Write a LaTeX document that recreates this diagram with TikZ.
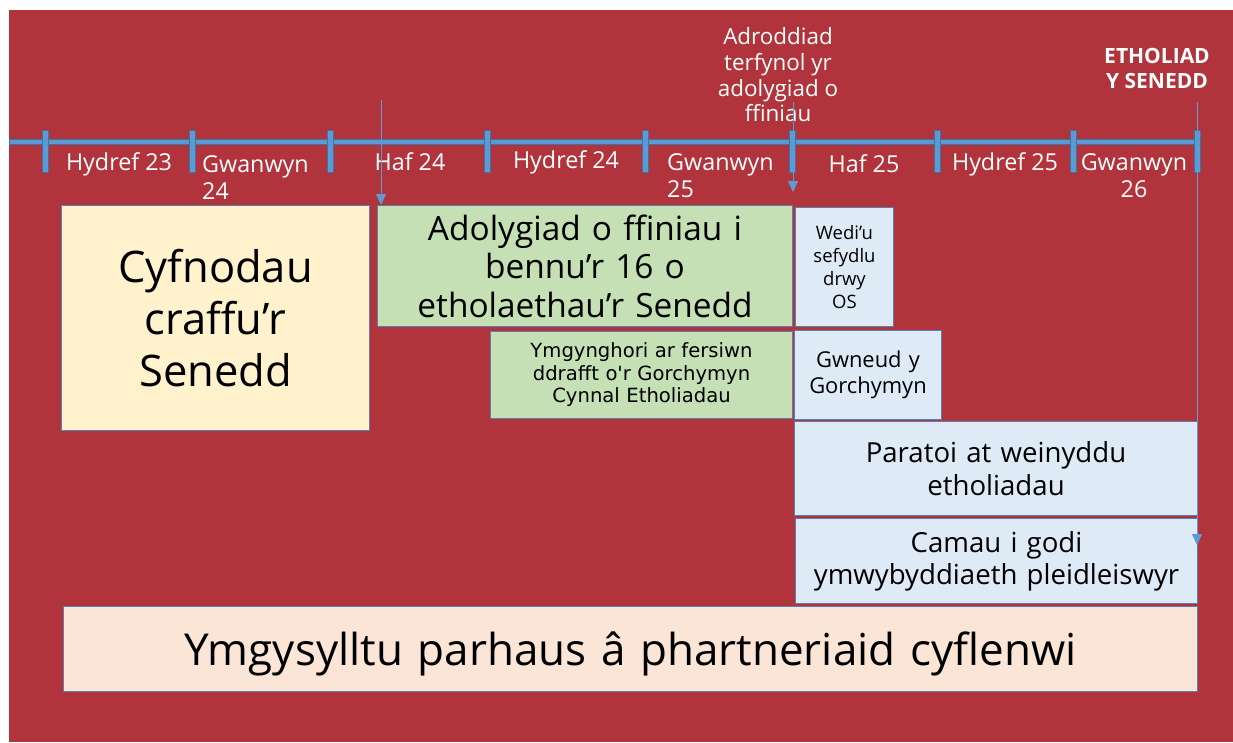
\documentclass[tikz,border=0pt]{standalone}
\usepackage{fontspec}
\setmainfont{Open Sans}
\newfontfamily\arialfont{DejaVu Sans}
\usetikzlibrary{arrows.meta}
\definecolor{senred}{HTML}{B1343C}
\definecolor{tlblue}{HTML}{5B9BD5}
\definecolor{tldark}{HTML}{41719C}
\definecolor{boxline}{HTML}{5A7FAF}
\definecolor{yellowbox}{HTML}{FFF2CC}
\definecolor{greenbox}{HTML}{C5E0B4}
\definecolor{bluebox}{HTML}{DEEBF7}
\definecolor{peachbox}{HTML}{FBE5D6}
\begin{document}
\begin{tikzpicture}[x=1pt,y=-1pt,
    box/.style={draw=boxline,line width=1pt,align=center,inner sep=0pt,anchor=north west},
    season/.style={text=white,inner sep=0pt,font=\fontsize{23.3}{27}\selectfont},
    pointer/.style={draw=tlblue,line width=1pt,-{Triangle[width=10pt,length=11pt]}}]
    \useasboundingbox (0,0) rectangle (1233,742);
    \fill[senred] (9,10) rectangle (1233,742);

    \filldraw[fill=tlblue,draw=tldark,line width=.6pt] (9,139.5) rectangle (1198,144.5);
    \foreach \x in {45,192,330,487,645,792,937,1073,1197}
        \filldraw[fill=tlblue,draw=tldark,line width=.6pt] (\x-3,130) rectangle (\x+3,172);

    \node[season] (hyd23) at (119,164) {Hydref 23};
    \node[season,align=left,anchor=west] (gwa24) at (202,177.5) {Gwanwyn\\24};
    \node[season] (haf24) at (410,162) {Haf 24};
    \node[season] (hyd24) at (566,162) {Hydref 24};
    \node[season,align=left,anchor=west] (gwa25) at (667,175.5) {Gwanwyn\\25};
    \node[season] (haf25) at (864,164) {Haf 25};
    \node[season] (hyd25) at (1005,164) {Hydref 25};
    \node[season,align=center] (gwa26) at (1134,175.5) {Gwanwyn\\26};

    \node[season,align=center,font=\fontsize{22.4}{25.7}\selectfont] (report) at (778,75)
        {Adroddiad\\terfynol yr\\adolygiad o\\ffiniau};
    \node[season,align=center,font=\fontsize{21}{25}\selectfont\bfseries] (election) at (1157,68)
        {ETHOLIAD\\Y SENEDD};

    \node[box,fill=yellowbox,text width=308pt,minimum height=225pt,font=\fontsize{43.5}{52}\selectfont]
        (scrutiny) at (61,205) {Cyfnodau\\craffu’r\\Senedd};
    \node[box,fill=greenbox,text width=415pt,minimum height=121pt,font=\fontsize{33.4}{38.5}\selectfont]
        (review) at (377,205) {Adolygiad o ffiniau i\\bennu’r 16 o\\etholaethau’r Senedd};
    \node[box,fill=greenbox,text width=302pt,minimum height=87pt,font=\arialfont\fontsize{19.6}{22.5}\selectfont]
        (consult) at (490,331) {Ymgynghori ar fersiwn\\ddrafft o'r Gorchymyn\\Cynnal Etholiadau};
    \node[box,fill=bluebox,text width=98pt,minimum height=119pt,font=\fontsize{18.5}{23}\selectfont]
        (made) at (795,207) {Wedi’u\\sefydlu\\drwy\\OS};
    \node[box,fill=bluebox,text width=147pt,minimum height=89pt,font=\fontsize{21.9}{26}\selectfont]
        (order) at (794,330) {Gwneud y\\Gorchymyn};
    \node[box,fill=bluebox,text width=403pt,minimum height=94pt,font=\fontsize{27.6}{33}\selectfont]
        (prepare) at (794,421) {Paratoi at weinyddu\\etholiadau};
    \node[box,fill=bluebox,text width=402pt,minimum height=85pt,font=\fontsize{27.6}{32}\selectfont]
        (aware) at (795,518) {Camau i godi\\ymwybyddiaeth pleidleiswyr};
    \node[box,fill=peachbox,text width=1134pt,minimum height=85pt,text height=43pt,text depth=10.5pt,
        font=\fontsize{44}{48}\selectfont]
        (partners) at (63,606) {Ymgysylltu parhaus â phartneriaid cyflenwi};

    \coordinate (revstart) at (381,100);
    \coordinate (repstart) at (793,102);
    \coordinate (repend) at (793,192);
    \coordinate (elecstart) at (1197,102);
    \coordinate (elecend) at (1197,545);
    \draw[pointer] (revstart) -- (revstart |- review.north);
    \draw[pointer] (repstart) -- (repend);
    \draw[pointer] (elecstart) -- (elecend);
\end{tikzpicture}
\end{document}
